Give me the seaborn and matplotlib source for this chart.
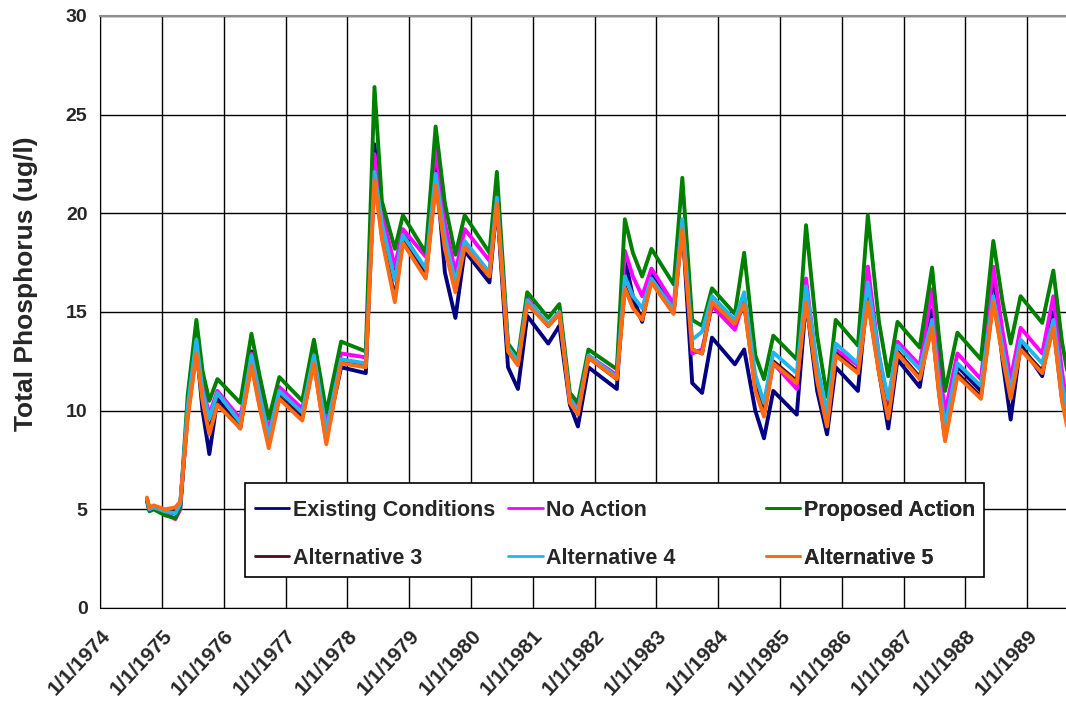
import numpy as np
import pandas as pd
import matplotlib
matplotlib.use("Agg")
import matplotlib.pyplot as plt
from matplotlib.lines import Line2D
from matplotlib.patches import Rectangle
import seaborn as sns

# ======================
# DATA
# ======================
# decimal years of the key points of each seasonal cycle
t_dec = [1974.76, 1974.80, 1974.87, 1975.05, 1975.22, 1975.30, 1975.42, 1975.56, 1975.66, 1975.77, 1975.90,
         1976.27, 1976.45, 1976.58, 1976.73, 1976.90,
         1977.27, 1977.46, 1977.56, 1977.66, 1977.90,
         1978.30, 1978.44, 1978.56, 1978.77, 1978.90,
         1979.27, 1979.43, 1979.58, 1979.75, 1979.90,
         1980.30, 1980.42, 1980.60, 1980.76, 1980.91,
         1981.25, 1981.43, 1981.60, 1981.73, 1981.90,
         1982.36, 1982.49, 1982.62, 1982.77, 1982.92,
         1983.28, 1983.42, 1983.58, 1983.74, 1983.90,
         1984.27, 1984.42, 1984.60, 1984.74, 1984.89,
         1985.27, 1985.42, 1985.60, 1985.76, 1985.90,
         1986.26, 1986.42, 1986.60, 1986.75, 1986.90,
         1987.26, 1987.46, 1987.57, 1987.67, 1987.87,
         1988.25, 1988.45, 1988.60, 1988.73, 1988.89,
         1989.24, 1989.42, 1989.56, 1989.70]

existing = [5.5, 5.0, 5.1, 4.9, 4.8, 5.2, 10.0, 13.3, 10.0, 7.8, 10.6,
            9.1, 13.0, 10.5, 8.6, 11.0,
            9.8, 13.0, 11.0, 8.7, 12.2,
            11.9, 23.5, 19.4, 16.8, 19.0,
            17.0, 22.5, 17.0, 14.7, 18.1,
            16.5, 20.5, 12.2, 11.1, 14.8,
            13.4, 14.3, 10.3, 9.2, 12.2,
            11.1, 17.7, 15.8, 14.5, 16.9,
            15.0, 19.5, 11.4, 10.9, 13.7,
            12.35, 13.1, 10.0, 8.6, 11.0,
            9.8, 15.6, 11.0, 8.8, 12.2,
            11.0, 16.3, 12.0, 9.1, 12.6,
            11.2, 15.1, 11.5, 8.9, 12.25,
            11.0, 17.0, 12.5, 9.55, 13.35,
            11.75, 15.0, 11.0, 8.8]

no_action = [5.5, 5.0, 5.1, 4.8, 4.5, 5.0, 10.2, 13.5, 11.2, 9.8, 11.0,
             9.6, 12.9, 11.0, 9.0, 11.2,
             10.1, 12.9, 11.2, 9.2, 12.9,
             12.7, 23.0, 20.0, 17.3, 19.2,
             17.8, 23.3, 19.5, 17.0, 19.2,
             17.6, 21.0, 13.2, 12.4, 15.7,
             14.3, 15.0, 10.6, 10.1, 12.8,
             11.8, 18.1, 16.8, 15.8, 17.2,
             15.4, 19.6, 12.9, 13.1, 15.3,
             14.1, 15.6, 11.5, 10.0, 12.4,
             11.1, 16.7, 12.0, 9.5, 13.1,
             12.3, 17.3, 12.8, 10.3, 13.5,
             12.3, 16.15, 12.5, 9.9, 12.9,
             11.6, 17.3, 14.0, 11.6, 14.2,
             12.9, 15.8, 12.0, 9.0]

proposed = [5.4, 4.9, 5.0, 4.7, 4.55, 5.1, 10.8, 14.6, 12.0, 10.5, 11.6,
            10.4, 13.9, 11.8, 9.6, 11.7,
            10.5, 13.6, 11.8, 9.9, 13.5,
            13.0, 26.4, 20.6, 18.2, 19.9,
            18.0, 24.4, 20.5, 17.9, 19.9,
            18.0, 22.1, 13.4, 12.7, 16.0,
            14.7, 15.4, 10.9, 10.4, 13.1,
            12.1, 19.7, 18.0, 16.8, 18.2,
            16.4, 21.8, 14.6, 14.3, 16.2,
            14.9, 18.0, 12.8, 11.6, 13.8,
            12.6, 19.4, 13.8, 10.7, 14.6,
            13.3, 19.9, 14.5, 11.75, 14.5,
            13.2, 17.25, 13.8, 11.0, 13.95,
            12.6, 18.6, 15.5, 13.4, 15.8,
            14.45, 17.1, 13.5, 11.0]

alt3 = [5.5, 5.0, 5.1, 4.95, 5.0, 5.3, 9.8, 13.0, 10.6, 9.0, 10.4,
        9.2, 12.4, 10.3, 8.3, 10.7,
        9.6, 12.5, 10.4, 8.5, 12.5,
        12.3, 22.0, 18.9, 15.7, 18.6,
        16.8, 21.6, 18.3, 16.2, 18.4,
        16.9, 20.6, 13.0, 12.4, 15.5,
        14.3, 14.9, 10.5, 9.9, 12.7,
        11.6, 16.3, 15.3, 14.7, 16.6,
        15.0, 19.3, 13.1, 12.9, 15.5,
        14.4, 15.4, 11.2, 9.8, 12.5,
        11.5, 15.6, 11.6, 9.3, 12.9,
        12.0, 15.6, 12.0, 9.7, 13.0,
        11.7, 14.3, 11.0, 8.6, 11.9,
        10.7, 15.6, 12.8, 10.7, 13.2,
        12.0, 14.3, 10.6, 8.6]

alt4 = [5.5, 5.0, 5.1, 4.9, 4.8, 5.3, 10.2, 13.6, 11.0, 9.6, 10.9,
        9.4, 12.8, 10.8, 8.7, 11.0,
        9.9, 12.8, 10.9, 9.0, 12.6,
        12.4, 22.1, 19.5, 16.6, 18.9,
        17.2, 22.0, 18.8, 16.5, 18.6,
        17.0, 20.8, 13.2, 12.5, 15.6,
        14.4, 15.0, 10.6, 10.0, 12.8,
        11.7, 16.8, 15.8, 15.2, 16.7,
        15.1, 19.7, 13.6, 14.0, 15.8,
        14.6, 16.0, 11.8, 10.4, 12.95,
        11.9, 16.3, 12.3, 9.9, 13.4,
        12.4, 16.5, 12.8, 10.6, 13.3,
        12.1, 14.6, 11.5, 9.2, 12.4,
        11.25, 15.8, 13.2, 11.0, 13.6,
        12.4, 14.6, 11.3, 9.3]

alt5 = [5.6, 5.1, 5.2, 5.0, 5.1, 5.4, 9.6, 12.9, 10.5, 8.8, 10.3,
        9.1, 12.3, 10.2, 8.1, 10.6,
        9.5, 12.4, 10.3, 8.3, 12.4,
        12.2, 21.7, 18.7, 15.5, 18.5,
        16.7, 21.4, 18.2, 16.0, 18.3,
        16.8, 20.5, 13.0, 12.3, 15.4,
        14.3, 14.9, 10.4, 9.8, 12.7,
        11.6, 16.2, 15.2, 14.6, 16.5,
        14.9, 19.2, 13.1, 12.9, 15.5,
        14.4, 15.4, 11.0, 9.7, 12.4,
        11.4, 15.5, 11.5, 9.2, 12.8,
        11.9, 15.5, 11.9, 9.6, 12.9,
        11.6, 14.2, 10.9, 8.45, 11.75,
        10.6, 15.5, 12.7, 10.6, 13.1,
        11.9, 14.2, 10.5, 8.3]

series_names = ["Existing Conditions", "No Action", "Proposed Action",
                "Alternative 3", "Alternative 4", "Alternative 5"]
series_colors = ["#000080", "#FF00FF", "#008000", "#4B0A1E", "#21B5EF", "#FF6A13"]
year_ticks = list(range(1974, 1990))


def to_date(x):
    y = int(np.floor(x))
    start = pd.Timestamp(year=y, month=1, day=1)
    days = (pd.Timestamp(year=y + 1, month=1, day=1) - start).days
    return start + pd.Timedelta(days=(x - y) * days)


dates = [to_date(x) for x in t_dec]
valores = [existing, no_action, proposed, alt3, alt4, alt5]
df = pd.concat([pd.DataFrame({"fecha": dates, "tp": v, "serie": n})
                for n, v in zip(series_names, valores)], ignore_index=True)

# ======================
# PLOT
# ======================
sns.set_style("white")
plt.rcParams["font.family"] = ["Liberation Sans", "DejaVu Sans"]
plt.rcParams["font.weight"] = "bold"

fig = plt.figure(figsize=(10.66, 7.04), dpi=100)
ax = fig.add_axes([100 / 1066, 96 / 704, 966 / 1066, 592 / 704])

sns.lineplot(data=df, x="fecha", y="tp", hue="serie", hue_order=series_names,
             palette=series_colors, linewidth=2.8, estimator=None,
             legend=False, ax=ax)
for ln in ax.get_lines():
    ln.set_solid_joinstyle("round")
    ln.set_solid_capstyle("round")

ax.set_ylim(0, 30)
ax.set_yticks(range(0, 31, 5))
ax.set_xlim(pd.Timestamp("1974-01-01"), to_date(1989.625))
ax.set_xticks([pd.Timestamp(year=y, month=1, day=1) for y in year_ticks])
ax.set_xticklabels([f"1/1/{y}" for y in year_ticks], rotation=47,
                   ha="right", rotation_mode="anchor", fontsize=15, fontweight="bold")
for lab in ax.get_yticklabels():
    lab.set_fontsize(14)
    lab.set_fontweight("bold")

ax.grid(True, color="black", linewidth=1.0)
ax.set_axisbelow(True)
ax.tick_params(axis="both", direction="out", length=5, width=1, color="black", pad=4)
ax.tick_params(axis="x", length=6, pad=7)
ax.spines["left"].set_color("black")
ax.spines["bottom"].set_color("black")
ax.spines["top"].set_color("#909090")
ax.spines["top"].set_linewidth(1.5)
ax.spines["right"].set_visible(False)

ax.set_xlabel("")
ax.set_ylabel("Total Phosphorus (ug/l)", fontsize=19, fontweight="bold")
ax.yaxis.set_label_coords(-0.064, 0.547)

# legend: white box + three equal-width columns, filled row by row
ax.add_patch(Rectangle((0.1501, 0.0524), 0.765, 0.1587, transform=ax.transAxes,
                       facecolor="white", edgecolor="black", linewidth=1.2,
                       zorder=5, clip_on=False))
col_x = [0.1605, 0.4225, 0.6894]
for k, x0 in enumerate(col_x):
    idx = [k, k + 3]
    hs = [Line2D([0], [0], color=series_colors[i], linewidth=2) for i in idx]
    leg = ax.legend(hs, [series_names[i] for i in idx], loc="upper left",
                    bbox_to_anchor=(x0, 0.183), frameon=False,
                    borderpad=0, borderaxespad=0, handlelength=1.6,
                    handletextpad=0.15, labelspacing=1.25,
                    prop={"weight": "bold", "size": 15.5})
    leg.set_zorder(6)
    ax.add_artist(leg)

fig.savefig("out.png", dpi=100)
